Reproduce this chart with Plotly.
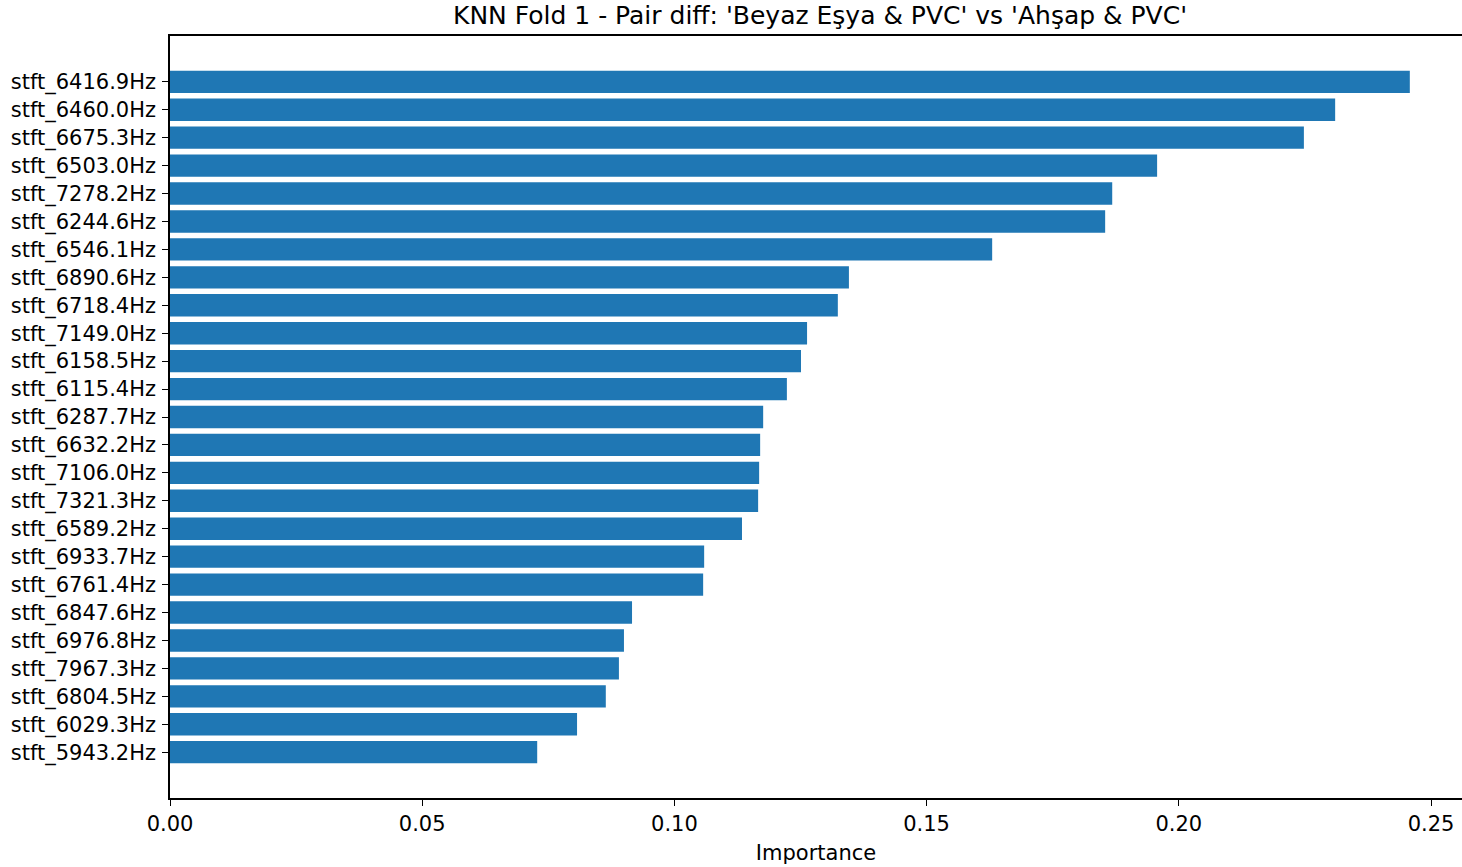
import plotly.graph_objects as go

# Feature importances, listed from highest to lowest
features = [
    "stft_6416.9Hz", "stft_6460.0Hz", "stft_6675.3Hz", "stft_6503.0Hz",
    "stft_7278.2Hz", "stft_6244.6Hz", "stft_6546.1Hz", "stft_6890.6Hz",
    "stft_6718.4Hz", "stft_7149.0Hz", "stft_6158.5Hz", "stft_6115.4Hz",
    "stft_6287.7Hz", "stft_6632.2Hz", "stft_7106.0Hz", "stft_7321.3Hz",
    "stft_6589.2Hz", "stft_6933.7Hz", "stft_6761.4Hz", "stft_6847.6Hz",
    "stft_6976.8Hz", "stft_7967.3Hz", "stft_6804.5Hz", "stft_6029.3Hz",
    "stft_5943.2Hz",
]
importance = [
    0.2458, 0.2310, 0.2248, 0.1957, 0.1868, 0.1854, 0.1630, 0.1346,
    0.1324, 0.1263, 0.1251, 0.1223, 0.1176, 0.1170, 0.1168, 0.1166,
    0.1134, 0.1059, 0.1057, 0.0916, 0.0900, 0.0890, 0.0864, 0.0807,
    0.0728,
]
x_ticks = [0.00, 0.05, 0.10, 0.15, 0.20, 0.25]
x_tick_text = ["0.00", "0.05", "0.10", "0.15", "0.20", "0.25"]

W, H = 1462, 867
FONT = "DejaVu Sans"
TICK_SIZE = 21

fig = go.Figure(
    go.Bar(
        x=importance,
        y=features,
        orientation="h",
        marker=dict(color="#1f77b4", line=dict(width=0)),
    )
)

n = len(features)
pad = 0.05 * (n - 0.2)
fig.update_layout(
    width=W,
    height=H,
    margin=dict(l=170, r=0, t=36, b=69),
    plot_bgcolor="white",
    paper_bgcolor="white",
    bargap=0.2,
    showlegend=False,
    font=dict(family=FONT, size=TICK_SIZE, color="black"),
    title=dict(
        text="KNN Fold 1 - Pair diff: 'Beyaz Eşya & PVC' vs 'Ahşap & PVC'",
        x=820 / W,
        xref="container",
        xanchor="center",
        y=1 - 15 / H,
        yanchor="middle",
        font=dict(family=FONT, size=25, color="black"),
    ),
    xaxis=dict(
        range=[0, (W - 170) / 5044],
        tickvals=x_ticks,
        ticktext=x_tick_text,
        ticks="outside",
        ticklen=6,
        tickwidth=1.3,
        tickcolor="black",
        showline=True,
        linecolor="black",
        linewidth=1.5,
        mirror=True,
        showgrid=False,
        zeroline=False,
        title=dict(text="Importance", font=dict(family=FONT, size=TICK_SIZE), standoff=10),
        tickfont=dict(family=FONT, size=TICK_SIZE),
    ),
    yaxis=dict(
        type="category",
        range=[n - 1 + 0.4 + pad, -0.4 - pad],
        ticks="outside",
        ticklen=6,
        tickwidth=1.3,
        tickcolor="black",
        showline=True,
        linecolor="black",
        linewidth=1.5,
        mirror=False,
        showgrid=False,
        zeroline=False,
        ticklabelstandoff=2,
        tickfont=dict(family=FONT, size=TICK_SIZE),
    ),
)

fig.write_html("out.html")
